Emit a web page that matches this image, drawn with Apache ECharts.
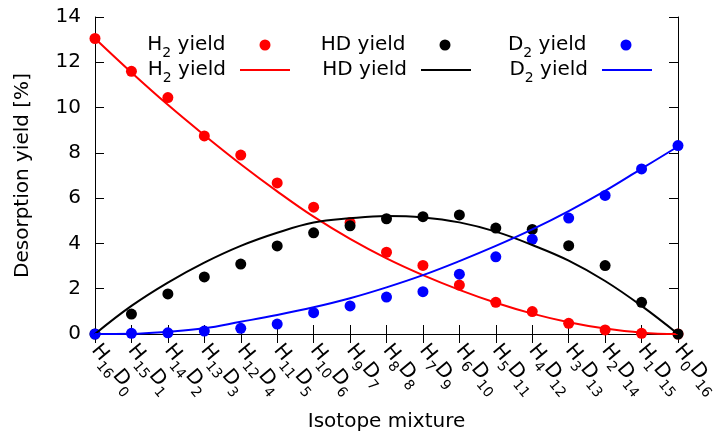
<!DOCTYPE html>
<html>
<head>
<meta charset="utf-8">
<script src="https://cdn.jsdelivr.net/npm/echarts@6/dist/echarts.min.js"></script>
<style>html,body{margin:0;padding:0;background:#fff}#c{width:724px;height:432px}</style>
</head>
<body>
<div id="c"></div>
<script>
// Isotope mixture categories: H_{16-i} D_i
const hCounts = [16,15,14,13,12,11,10,9,8,7,6,5,4,3,2,1,0];
const dCounts = [0,1,2,3,4,5,6,7,8,9,10,11,12,13,14,15,16];
const categories = hCounts.map((h, i) => 'H' + h + 'D' + dCounts[i]);

// Measured yields [%]
const h2Points = [13.05, 11.6, 10.44, 8.75, 7.9, 6.67, 5.6, 4.92, 3.61, 3.03, 2.16, 1.4, 0.99, 0.47, 0.18, 0.03, 0];
const hdPoints = [0, 0.88, 1.77, 2.52, 3.09, 3.89, 4.47, 4.78, 5.09, 5.18, 5.26, 4.68, 4.62, 3.9, 3.02, 1.4, 0];
const d2Points = [0, 0.03, 0.05, 0.13, 0.25, 0.44, 0.94, 1.24, 1.63, 1.87, 2.64, 3.41, 4.18, 5.12, 6.12, 7.29, 8.32];

// Fitted curves [%]
const h2Fit = [13.05, 11.55, 10.12, 8.78, 7.5, 6.3, 5.18, 4.2, 3.34, 2.6, 1.95, 1.38, 0.9, 0.52, 0.24, 0.06, 0];
const hdFit = [0, 1.24, 2.27, 3.15, 3.89, 4.47, 4.92, 5.11, 5.21, 5.15, 4.93, 4.52, 3.93, 3.24, 2.34, 1.24, 0];
const d2Fit = [0, 0.01, 0.1, 0.25, 0.54, 0.84, 1.18, 1.58, 2.06, 2.6, 3.22, 3.89, 4.62, 5.43, 6.32, 7.3, 8.28];

// Y ticks
const yMin = 0, yMax = 14, yStep = 2;

// Legend labels
const legendNames = {
  h2p: '{m|H}{s|2}{m| yield}', hdp: '{m|HD yield}', d2p: '{m|D}{s|2}{m| yield}',
  h2l: '{m|H}{s|2}{m| yield}', hdl: '{m|HD yield}', d2l: '{m|D}{s|2}{m| yield}'
};

const FONT = '"DejaVu Sans", "Liberation Sans", Arial, sans-serif';
const legendRich = {
  m: { fontSize: 20, lineHeight: 30, fontFamily: FONT, color: '#000', verticalAlign: 'middle' },
  s: { fontSize: 14, lineHeight: 20, fontFamily: FONT, color: '#000', verticalAlign: 'bottom' }
};
const tickRich = {
  m: { fontSize: 20, lineHeight: 30, fontFamily: FONT, color: '#000', verticalAlign: 'middle' },
  s: { fontSize: 14, lineHeight: 16, fontFamily: FONT, color: '#000', verticalAlign: 'bottom' }
};

const RED = '#ff0000', BLACK = '#000000', BLUE = '#0000ff';

const chart = echarts.init(document.getElementById('c'), null, { renderer: 'canvas' });

function ptSeries(name, data, color) {
  return { name, type: 'scatter', data, symbol: 'circle', symbolSize: 11,
    itemStyle: { color, opacity: 1 }, xAxisIndex: 0, yAxisIndex: 0, z: 2 };
}
function lineSeries(name, data, color) {
  return { name, type: 'line', data, symbol: 'none', showSymbol: false, smooth: 0.4,
    lineStyle: { color, width: 2 }, itemStyle: { color }, xAxisIndex: 0, yAxisIndex: 0, z: 3 };
}

// one legend entry per key cell (text right-justified before the sample, gnuplot style)
function pointKey(name, right) {
  return { data: [{ name, icon: 'circle' }], right, top: 35, padding: 0, align: 'right',
    itemWidth: 11, itemHeight: 11, selectedMode: false,
    formatter: n => legendNames[n], textStyle: { rich: legendRich, padding: [0, 29, 0, 0] } };
}
function lineKey(name, right) {
  return { data: [{ name, icon: 'rect' }], right, top: 60, padding: 0, align: 'right',
    itemWidth: 50, itemHeight: 2, selectedMode: false,
    formatter: n => legendNames[n], textStyle: { rich: legendRich, padding: [0, 9, 0, 0] } };
}

const axisLineStyle = { lineStyle: { color: '#000', width: 1 } };

chart.setOption({
  animation: false,
  backgroundColor: '#fff',
  textStyle: { fontFamily: FONT },
  grid: { left: 95, right: 46, top: 17, bottom: 98, outerBoundsMode: 'none', containLabel: false },
  legend: [
    pointKey('h2p', 453.5), pointKey('hdp', 273.5), pointKey('d2p', 92.5),
    lineKey('h2l', 434), lineKey('hdl', 253), lineKey('d2l', 72)
  ],
  xAxis: [
    {
      type: 'category', data: categories, boundaryGap: false, position: 'bottom',
      axisLine: axisLineStyle,
      axisTick: { show: true, inside: true, length: 9, interval: 0, lineStyle: { color: '#000' } },
      axisLabel: {
        interval: 0, rotate: -50, margin: 13,
        formatter: (v, i) => '{m|H}{s|' + hCounts[i] + '}{m|D}{s|' + dCounts[i] + '}',
        rich: tickRich
      },
      splitLine: { show: false },
      name: 'Isotope mixture', nameLocation: 'middle', nameGap: 78, nameMoveOverlap: false,
      nameTextStyle: { fontSize: 20, color: '#000', fontFamily: FONT }
    },
    {
      type: 'category', data: categories, boundaryGap: false, position: 'top',
      axisLine: axisLineStyle,
      axisTick: { show: true, inside: true, length: 9, interval: 0, lineStyle: { color: '#000' } },
      axisLabel: { show: false }, splitLine: { show: false }
    }
  ],
  yAxis: [
    {
      type: 'value', min: yMin, max: yMax, interval: yStep, position: 'left',
      axisLine: { show: true, lineStyle: { color: '#000', width: 1 } },
      axisTick: { show: true, inside: true, length: 9, lineStyle: { color: '#000' } },
      axisLabel: { fontSize: 20, color: '#000', margin: 14, fontFamily: FONT },
      splitLine: { show: false },
      name: 'Desorption yield [%]', nameLocation: 'middle', nameGap: 62, nameRotate: 90, nameMoveOverlap: false,
      nameTextStyle: { fontSize: 20, color: '#000', fontFamily: FONT }
    },
    {
      type: 'value', min: yMin, max: yMax, interval: yStep, position: 'right',
      axisLine: { show: true, lineStyle: { color: '#000', width: 1 } },
      axisTick: { show: true, inside: true, length: 9, lineStyle: { color: '#000' } },
      axisLabel: { show: false }, splitLine: { show: false }
    }
  ],
  series: [
    ptSeries('h2p', h2Points, RED),
    ptSeries('hdp', hdPoints, BLACK),
    ptSeries('d2p', d2Points, BLUE),
    lineSeries('h2l', h2Fit, RED),
    lineSeries('hdl', hdFit, BLACK),
    lineSeries('d2l', d2Fit, BLUE)
  ]
});
</script>
</body>
</html>
